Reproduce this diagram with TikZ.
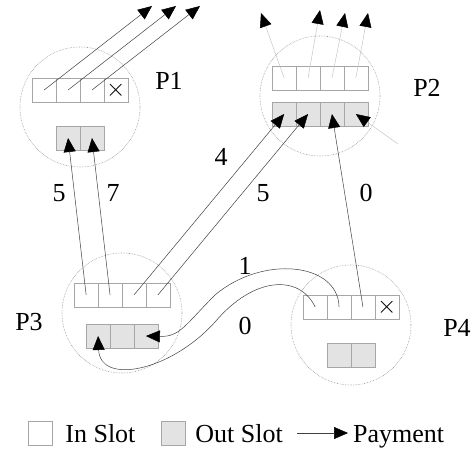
\documentclass[tikz,border=0pt]{standalone}
\usepackage{fontspec}
\setmainfont{Liberation Serif}
\usetikzlibrary{matrix,positioning,arrows.meta}

\begin{document}
\begin{tikzpicture}[
    x = 1pt, y = -1pt,
    font = \fontsize{26}{30}\selectfont,
    slot/.style    = {draw = gray!70, minimum size = 24pt, inner sep = 0pt, anchor = center},
    inslot/.style  = {slot, fill = white},
    outslot/.style = {slot, fill = gray!22},
    slotrow/.style = {matrix of nodes, nodes in empty cells, column sep = -0.5pt, inner sep = 0pt},
    peer/.style    = {circle, draw = gray!80, densely dotted, line width = 0.6pt,
                      minimum size = 120pt, inner sep = 0pt},
    pay/.style     = {draw = black!75, line width = 0.5pt,
                      -{Triangle[length = 14pt, width = 12pt, color = black]}},
    faint/.style   = {pay, draw = gray!45},
    tag/.style     = {inner sep = 0pt, text height = 18pt, text depth = 0pt}
  ]
  \useasboundingbox (0,0) rectangle (474,448);

  % The four peers
  \node[peer] (p1) at (80,107)  {};
  \node[peer] (p2) at (320,96)  {};
  \node[peer] (p3) at (122,313) {};
  \node[peer] (p4) at (351,325) {};

  \node[tag] (p1name) at (169,80)  {P1};
  \node[tag] (p2name) at (427,87)  {P2};
  \node[tag] (p3name) at (29,321)  {P3};
  \node[tag] (p4name) at (457,327) {P4};

  % In slots and out slots of each peer
  \matrix[slotrow, nodes = inslot]  (p1in)  at (80,90)   { & & & $\times$ \\ };
  \matrix[slotrow, nodes = outslot] (p1out) at (80,138)  { & \\ };
  \matrix[slotrow, nodes = inslot]  (p2in)  at (320,78)  { & & & \\ };
  \matrix[slotrow, nodes = outslot] (p2out) at (320,114) { & & & \\ };
  \matrix[slotrow, nodes = inslot]  (p3in)  at (122,295) { & & & \\ };
  \matrix[slotrow, nodes = outslot] (p3out) at (122,336) { & & \\ };
  \matrix[slotrow, nodes = inslot]  (p4in)  at (351,307) { & & & $\times$ \\ };
  \matrix[slotrow, nodes = outslot] (p4out) at (351,355) { & \\ };

  % Payments leaving the picture
  \foreach \i/\x in {1/152, 2/176, 3/200} {
    \coordinate (p1away\i) at (\x,6);
    \draw[pay] (p1in-1-\i.center) -- (p1away\i);
  }
  \foreach \i/\x/\y in {1/261/13, 2/320/10, 3/345/13, 4/368/13} {
    \coordinate (p2away\i) at (\x,\y);
    \draw[faint] (p2in-1-\i.center) -- (p2away\i);
  }
  \coordinate (p2from) at (398,144);
  \draw[faint] (p2from) -- (p2out-1-4.center);

  % Payments between the peers
  \draw[pay] (p3in-1-1.center) -- (p1out-1-1.center);
  \draw[pay] (p3in-1-2.center) -- (p1out-1-2.center);
  \draw[pay] (p3in-1-3.center) -- (p2out-1-1.center);
  \draw[pay] (p3in-1-4.center) -- (p2out-1-2.center);
  \draw[pay] (p4in-1-3.center) -- (p2out-1-3.center);
  \draw[pay] (p4in-1-2.center) .. controls (338,262) and (262,255) .. (215,295)
                               .. controls (185,325) and (180,337) .. (p3out-1-3.center);
  \draw[pay] (p4in-1-1.center) .. controls (300,275) and (255,275) .. (215,322)
                               .. controls (170,372) and (100,385) .. (p3out-1-1.center);

  % Amounts
  \node[tag] (amt31a) at (59,192)  {5};
  \node[tag] (amt31b) at (113,192) {7};
  \node[tag] (amt32a) at (221,156) {4};
  \node[tag] (amt32b) at (263,192) {5};
  \node[tag] (amt42)  at (366,192) {0};
  \node[tag] (amt43a) at (245,265) {1};
  \node[tag] (amt43b) at (245,325) {0};

  % Legend
  \node[inslot] (keyin) at (40,433) {};
  \node[tag, right = 13pt of keyin] (keyintext) {In Slot};
  \node[outslot] (keyout) at (173,433) {};
  \node[tag, right = 10pt of keyout] (keyouttext) {Out Slot};
  \coordinate (keyfrom) at (297,433);
  \node[tag, right = 56pt of keyfrom] (keypay) {Payment};
  \draw[pay, shorten >= 5pt] (keyfrom) -- (keypay.west);
\end{tikzpicture}
\end{document}
